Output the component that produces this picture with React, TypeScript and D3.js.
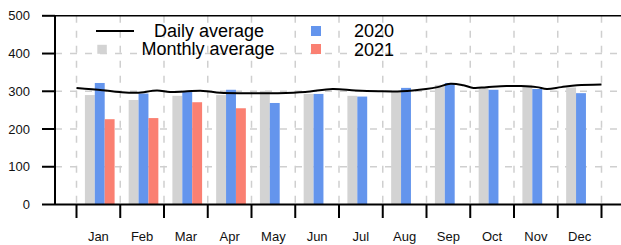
import React from "react";
import * as d3 from "d3";

const months = ["Jan", "Feb", "Mar", "Apr", "May", "Jun", "Jul", "Aug", "Sep", "Oct", "Nov", "Dec"];
const monthlyAverage = [290, 277, 288, 290, 301, 293, 288, 298, 317, 311, 317, 310];
const values2020 = [322, 294, 298, 304, 269, 293, 286, 309, 322, 304, 306, 295];
const values2021 = [226, 229, 271, 255];
const dailyDays = [0, 18, 30, 42, 56, 65, 77, 88, 100, 118, 140, 159, 178, 194, 210, 226, 243, 251, 260, 269, 276, 285, 299, 309, 320, 327, 337, 348, 365];
const dailyValues = [309, 303, 298, 296, 302, 298, 300, 301, 296, 295, 295, 298, 306, 302, 300, 300, 306, 311, 320, 316, 309, 311, 314, 314, 311, 306, 311, 316, 318];
const yTicks = [0, 100, 200, 300, 400, 500];
const seriesKeys = ["monthly", "y2020", "y2021"];
const seriesColors: Record<string, string> = { monthly: "#d3d3d3", y2020: "#6495ed", y2021: "#fa8072" };

const W = 621, H = 245;
const left = 55, right = 621, top = 15.8, bottom = 204.5;
const x0 = 76.5, x1 = 601.5;

export default function App() {
  const x = d3.scaleBand<string>().domain(months).range([x0, x1]).padding(0);
  const step = x.step();
  const inner = d3.scaleBand<string>().domain(seriesKeys).range([8.4, 8.4 + 29.7]).padding(0);
  const y = d3.scaleLinear().domain([0, 500]).range([bottom, top]);
  const xDay = d3.scaleLinear().domain([0, 365]).range([x0, x1]);
  const line = d3.line<number>()
    .x((_, i) => xDay(dailyDays[i]))
    .y((d) => y(d))
    .curve(d3.curveCatmullRom.alpha(0.5));

  const boundaries = d3.range(months.length + 1).map((i) => x0 + i * step);
  const font = "'Liberation Sans', Arial, sans-serif";

  const bars: { key: string; m: string; v: number }[] = [];
  months.forEach((m, i) => {
    bars.push({ key: "monthly", m, v: monthlyAverage[i] });
    bars.push({ key: "y2020", m, v: values2020[i] });
    if (i < values2021.length) bars.push({ key: "y2021", m, v: values2021[i] });
  });

  return (
    <svg width={W} height={H} style={{ position: "absolute", left: 0, top: 0, background: "#fff" }} fontFamily={font}>
      {/* grid */}
      {yTicks.filter((t) => t > 0 && t < 500).map((t) => (
        <line key={"hg" + t} x1={left} x2={right} y1={y(t)} y2={y(t)} stroke="#cfcfcf" strokeWidth={1.5} strokeDasharray="7,8" />
      ))}
      {boundaries.map((b, i) => (
        <line key={"vg" + i} x1={b} x2={b} y1={top} y2={bottom} stroke="#cfcfcf" strokeWidth={1.5} strokeDasharray="7,8" />
      ))}
      {/* bars */}
      {bars.map((b, i) => (
        <rect key={i} x={(x(b.m) as number) + (inner(b.key) as number)} width={inner.bandwidth()} y={y(b.v)} height={y(0) - y(b.v)} fill={seriesColors[b.key]} />
      ))}
      {/* daily line */}
      <path d={line(dailyValues) || ""} fill="none" stroke="#000" strokeWidth={2} />
      {/* axes */}
      <line x1={left} x2={right} y1={top} y2={top} stroke="#000" strokeWidth={1.5} />
      <line x1={left} x2={left} y1={top} y2={bottom} stroke="#000" strokeWidth={2} />
      <line x1={left} x2={right} y1={bottom} y2={bottom} stroke="#000" strokeWidth={2} />
      {yTicks.map((t) => (
        <g key={"yt" + t}>
          <line x1={42} x2={left} y1={y(t)} y2={y(t)} stroke="#000" strokeWidth={2} />
          <text x={30} y={y(t)} dy="0.35em" textAnchor="end" fontSize={13} fill="#111">{t}</text>
        </g>
      ))}
      {boundaries.map((b, i) => (
        <line key={"xt" + i} x1={b} x2={b} y1={bottom} y2={218} stroke="#000" strokeWidth={2} />
      ))}
      {months.map((m) => (
        <text key={"xl" + m} x={(x(m) as number) + step / 2} y={241} textAnchor="middle" fontSize={13} fill="#111">{m}</text>
      ))}
      {/* legend */}
      <line x1={96} x2={134} y1={31} y2={31} stroke="#000" strokeWidth={2} />
      <text x={209} y={37} textAnchor="middle" fontSize={18} fill="#000">Daily average</text>
      <rect x={97.3} y={44.8} width={9.5} height={9} fill={seriesColors.monthly} />
      <text x={208} y={55} textAnchor="middle" fontSize={18} fill="#000">Monthly average</text>
      <rect x={311} y={26} width={10} height={10} fill={seriesColors.y2020} />
      <text x={354} y={37} fontSize={18} fill="#000">2020</text>
      <rect x={311} y={44} width={10} height={10} fill={seriesColors.y2021} />
      <text x={354} y={55.5} fontSize={18} fill="#000">2021</text>
    </svg>
  );
}
